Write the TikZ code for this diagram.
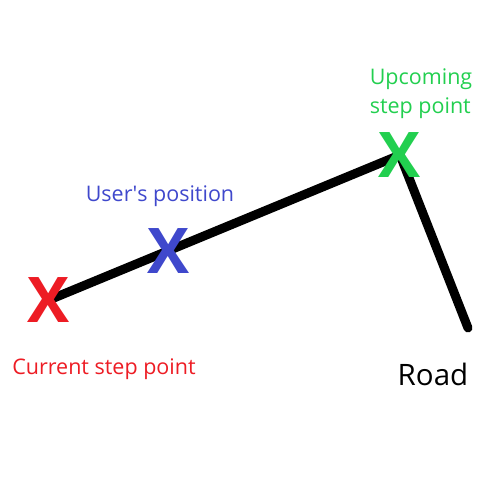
\documentclass[tikz,border=0pt]{standalone}
\usepackage{fontspec}
\setmainfont{Open Sans}
\definecolor{cred}{HTML}{ED1C24}
\definecolor{cblue}{HTML}{3F48CC}
\definecolor{cgreen}{HTML}{22CF4F}
\begin{document}
\begin{tikzpicture}[x=1pt,y=-1pt,line join=round,line cap=round,
	mark x/.style={font=\fontsize{63}{63}\selectfont\bfseries,inner sep=0pt},
	lbl/.style={font=\fontsize{21.5}{29}\selectfont,inner sep=0pt}]
		\useasboundingbox (0,0) rectangle (500,500);
		\coordinate (roadend) at (468,328);
		\node[mark x,text=cred] (cur) at (49,300) {\phantom{X}};
		\node[mark x,text=cblue] (usr) at (169,251) {\phantom{X}};
		\node[mark x,text=cgreen] (nxt) at (400,155) {\phantom{X}};
		\draw[line width=9pt] (cur.center) -- (nxt.center) -- (roadend);
		\node[mark x,text=cred] at (cur) {X};
		\node[mark x,text=cblue] at (usr) {X};
		\node[mark x,text=cgreen] at (nxt) {X};
		\node[lbl,text=cred] (curlbl) at (104,369) {Current step point};
		\node[lbl,text=cblue] (usrlbl) at (160,196) {User\textquotesingle s position};
		\node[lbl,text=cgreen,align=left] (nxtlbl) at (421,94) {Upcoming\\step point};
		\node[font=\fontsize{29.5}{29.5}\selectfont,inner sep=0pt] (road) at (433,374) {Road};
\end{tikzpicture}
\end{document}
